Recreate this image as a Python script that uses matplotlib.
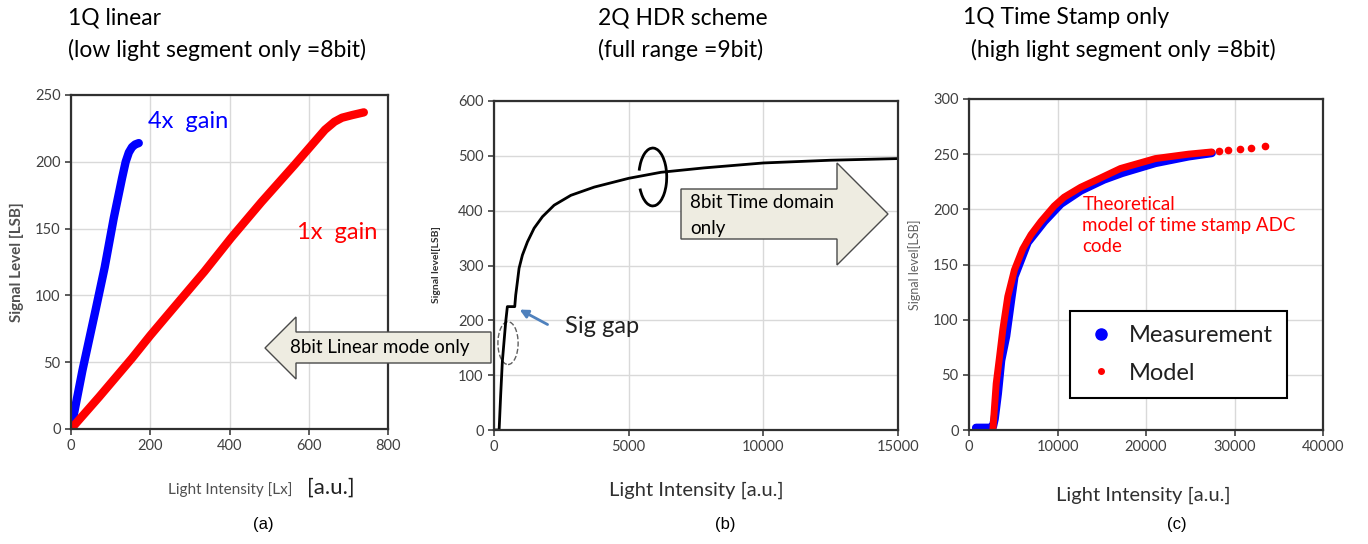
import matplotlib
matplotlib.use("Agg")
import matplotlib.pyplot as plt
from matplotlib.patches import Polygon, Arc, Ellipse
from matplotlib.lines import Line2D

plt.rcParams['font.family'] = ['Lato', 'DejaVu Sans']

# --- datos ---
# (a) 1Q lineal
gain4_x = [0, 29, 62, 85, 108, 129, 138, 146, 154, 162, 171]
gain4_y = [0, 44, 89, 121, 158, 188, 200, 207, 211, 213, 214]
gain1_x = [0, 71, 154, 200, 237, 337, 404, 481, 565, 603, 641, 665, 684, 710, 739]
gain1_y = [0, 24, 53, 70, 83, 118, 143, 170, 198, 211, 224, 230, 233, 235, 237]

# (b) 2Q HDR
hdr_x = [60, 190, 248, 310, 372, 434, 496, 770, 806, 868, 931, 1055, 1241, 1489,
         1799, 2233, 2854, 3722, 5000, 6200, 7800, 10000, 12500, 15000]
hdr_y = [0, 0, 64, 125, 161, 197, 225, 225, 246, 270, 295, 319, 343, 368,
         389, 410, 428, 443, 459, 470, 478, 487, 492, 495]

# (c) 1Q time stamp
meas_x = [800, 2300, 2700, 2900, 3258, 3633, 4195, 4757, 5131, 6629, 8502, 10375,
          12622, 15244, 17303, 21056, 24801, 27423]
meas_y = [2, 2, 3, 10, 33, 63, 85, 118, 139, 170, 189, 205, 217, 227, 233, 242,
          248, 251]
model_x = [2697, 3071, 3446, 3820, 4382, 5131, 6067, 7004, 8127, 9625, 10749,
           12622, 14494, 17116, 21056, 24801, 27423]
model_y = [0, 42, 66, 91, 121, 145, 164, 177, 189, 203, 211, 220, 227, 237, 246,
           250, 252]
model_tail_x = [28200, 29300, 30600, 31900, 33400]
model_tail_y = [253, 254, 255, 256, 257]

W, H = 1368, 544
fig = plt.figure(figsize=(W / 100, H / 100), dpi=100)


def fx(x):
    return x / W


def fy(y):
    return 1 - y / H


def ax_px(l, t, r, b):
    return fig.add_axes([fx(l), fy(b), (r - l) / W, (b - t) / H])


TICK_C = '#404040'
GRID_C = '#d9d9d9'


def style(ax):
    for s in ax.spines.values():
        s.set_color('#303030')
        s.set_linewidth(1.6)
    ax.grid(True, color=GRID_C, lw=1)
    ax.set_axisbelow(True)
    ax.tick_params(colors=TICK_C, labelsize=10.5, length=4, width=1.2,
                   labelcolor=TICK_C)


# ---- (a) ----
ax1 = ax_px(71, 95, 388, 429)
ax1.plot(gain4_x, gain4_y, color='#0000ff', lw=6, solid_capstyle='round')
ax1.plot(gain1_x, gain1_y, color='#ff0000', lw=6, solid_capstyle='round')
ax1.set_xlim(0, 800)
ax1.set_ylim(0, 250)
ax1.set_xticks([0, 200, 400, 600, 800])
ax1.set_yticks([0, 50, 100, 150, 200, 250])
style(ax1)
ax1.text(194, 230, '4x  gain', color='#0000ff', fontsize=17, va='center')
ax1.text(570, 147, '1x  gain', color='#ff0000', fontsize=17, va='center')

# ---- (b) ----
ax2 = ax_px(494, 101, 898, 430)
ax2.plot(hdr_x, hdr_y, color='black', lw=2)
ax2.set_xlim(0, 15000)
ax2.set_ylim(0, 600)
ax2.set_xticks([0, 5000, 10000, 15000])
ax2.set_yticks([0, 100, 200, 300, 400, 500, 600])
style(ax2)
ax2.add_patch(Arc((0.393, 0.769), 0.069, 0.176, theta1=-132, theta2=150,
                  transform=ax2.transAxes, color='black', lw=2))
ax2.add_patch(Ellipse((0.0347, 0.264), 0.05, 0.13, transform=ax2.transAxes,
                      fill=False, ls='--', color='#606060', lw=1))
ax2.annotate('', xy=(860, 222), xytext=(2080, 190),
             arrowprops=dict(arrowstyle='-|>', color='#4f81bd', lw=2,
                             mutation_scale=12))
ax2.text(2640, 188, 'Sig gap', fontsize=17, va='center', color='#202020')

# ---- (c) ----
ax3 = ax_px(969, 99, 1323, 430)
ax3.plot(meas_x, meas_y, color='#0000ff', lw=6, solid_capstyle='round')
ax3.plot(model_x, model_y, color='#ff0000', lw=5, solid_capstyle='round')
ax3.plot(model_tail_x, model_tail_y, 'o', color='#ff0000', ms=4.5)
ax3.set_xlim(0, 40000)
ax3.set_ylim(0, 300)
ax3.set_xticks([0, 10000, 20000, 30000, 40000])
ax3.set_yticks([0, 50, 100, 150, 200, 250, 300])
style(ax3)
ax3.text(12800, 212, 'Theoretical\nmodel of time stamp ADC\ncode', color='#ff0000',
         fontsize=13.5, va='top', linespacing=1.3)
handles = [Line2D([], [], ls='', marker='o', color='#0000ff', ms=8),
           Line2D([], [], ls='', marker='o', color='#ff0000', ms=4)]
leg = ax3.legend(handles, ['Measurement', 'Model'], loc='lower left',
                 bbox_to_anchor=(0.285, 0.097), borderaxespad=0, fontsize=17,
                 frameon=True, fancybox=False, edgecolor='black',
                 handlelength=1.4, handletextpad=0.5, borderpad=0.6,
                 labelspacing=0.7, framealpha=1)
leg.get_frame().set_linewidth(1.5)
for t in leg.get_texts():
    t.set_color('#202020')

# ---- flechas grandes ----
FILL = '#eeece1'
EDGE = '#4a4a4a'
left_arrow = [(265, 348), (296, 317), (296, 332), (491, 332), (491, 363),
              (296, 363), (296, 379)]
fig.add_artist(Polygon([(fx(x), fy(y)) for x, y in left_arrow], closed=True,
                       transform=fig.transFigure, facecolor=FILL, edgecolor=EDGE,
                       lw=1, zorder=5))
fig.text(fx(290), fy(348), '8bit Linear mode only', fontsize=13.5, va='center',
         zorder=6)
right_arrow = [(681, 189), (837, 189), (837, 163), (888, 214), (837, 265),
               (837, 239), (681, 239)]
fig.add_artist(Polygon([(fx(x), fy(y)) for x, y in right_arrow], closed=True,
                       transform=fig.transFigure, facecolor=FILL, edgecolor=EDGE,
                       lw=1, zorder=5))
fig.text(fx(690), fy(202), '8bit Time domain', fontsize=13.5, va='center', zorder=6)
fig.text(fx(690), fy(228), 'only', fontsize=13.5, va='center', zorder=6)

# ---- títulos ----
TS = 16.5
fig.text(fx(68), fy(18), '1Q linear', fontsize=TS, va='center')
fig.text(fx(68), fy(50), '(low light segment only =8bit)', fontsize=TS, va='center')
fig.text(fx(598), fy(18), '2Q HDR scheme', fontsize=TS, va='center')
fig.text(fx(598), fy(50), '(full range =9bit)', fontsize=TS, va='center')
fig.text(fx(963), fy(18), '1Q Time Stamp only', fontsize=TS, va='center')
fig.text(fx(965), fy(50), ' (high light segment only =8bit)', fontsize=TS, va='center')

# ---- etiquetas de ejes ----
fig.text(fx(17), fy(262), 'Signal Level [LSB]', rotation=90, fontsize=11,
         fontweight='bold', color='#505050', ha='center', va='center')
fig.text(fx(437), fy(265), 'Signal level[LSB]', rotation=90, fontsize=7.5,
         fontweight='bold', color='#303030', ha='center', va='center')
fig.text(fx(915), fy(265), 'Signal level[LSB]', rotation=90, fontsize=9,
         color='#606060', ha='center', va='center')
fig.text(fx(292), fy(490), 'Light Intensity [Lx]', fontsize=11, color='#505050',
         ha='right', va='center')
fig.text(fx(307), fy(488), '[a.u.]', fontsize=16, color='#202020', va='center')
fig.text(fx(696), fy(490), 'Light Intensity [a.u.]', fontsize=14.5, color='#303030',
         ha='center', va='center')
fig.text(fx(1143), fy(495), 'Light Intensity [a.u.]', fontsize=14.5, color='#303030',
         ha='center', va='center')

SF = ['Liberation Sans', 'DejaVu Sans']
fig.text(fx(263), fy(525), '(a)', fontsize=12, ha='center', va='center', family=SF)
fig.text(fx(725), fy(525), '(b)', fontsize=12, ha='center', va='center', family=SF)
fig.text(fx(1177), fy(525), '(c)', fontsize=12, ha='center', va='center', family=SF)

fig.savefig('out.png', dpi=100, facecolor='white')
